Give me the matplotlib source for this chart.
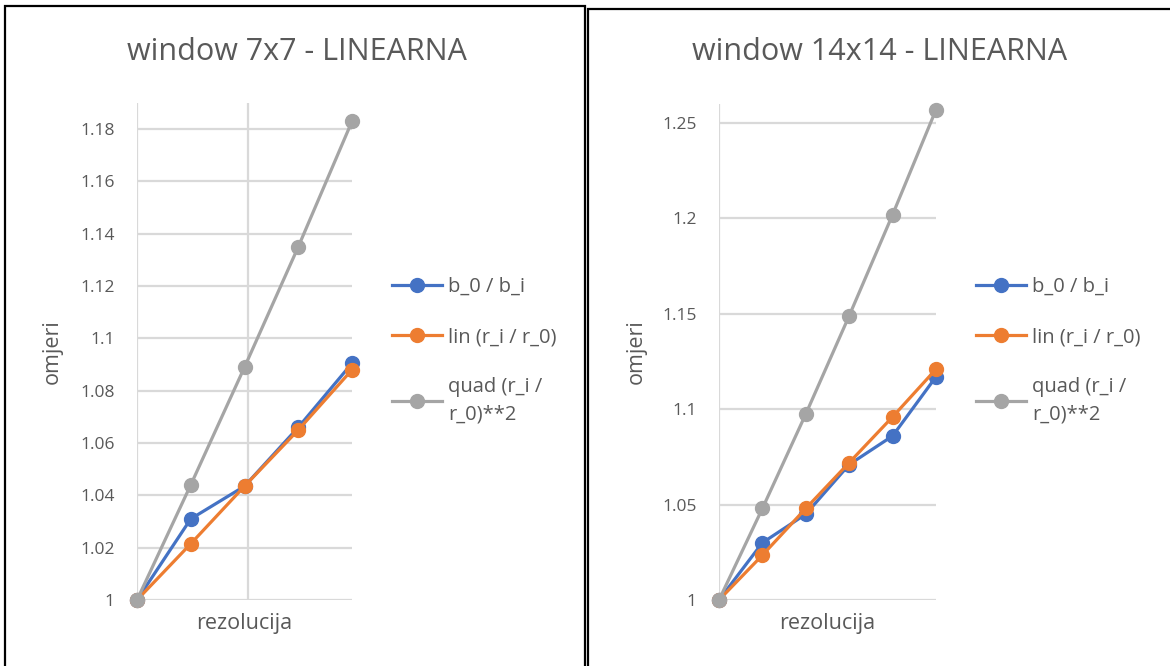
import matplotlib
matplotlib.use("Agg")
import matplotlib.pyplot as plt
from matplotlib.patches import Rectangle
import numpy as np

plt.rcParams.update(
    {
        "font.family": ["Open Sans", "DejaVu Sans"],
        "font.size": 12,
        "text.color": "#595959",
        "axes.labelcolor": "#595959",
        "xtick.color": "#595959",
        "ytick.color": "#595959",
    }
)

# Ratios per resolution step, window 7x7
w7_b = [1.0, 1.031, 1.0435, 1.066, 1.0905]
w7_lin = [1.0, 1.0215, 1.0435, 1.065, 1.088]
w7_quad = [1.0, 1.044, 1.089, 1.135, 1.183]

# Ratios per resolution step, window 14x14
w14_b = [1.0, 1.030, 1.045, 1.071, 1.086, 1.117]
w14_lin = [1.0, 1.0235, 1.048, 1.072, 1.096, 1.121]
w14_quad = [1.0, 1.048, 1.0975, 1.149, 1.202, 1.257]

labels = ["b_0 / b_i", "lin (r_i / r_0)", "quad (r_i /\nr_0)**2"]
colors = ["#4472C4", "#ED7D31", "#A5A5A5"]
GRID = "#D9D9D9"

fig = plt.figure(figsize=(11.7, 6.66), dpi=100)

# panel frames
fig.patches.append(Rectangle((5 / 1170, -0.05), 580 / 1170, 1 - 6 / 666 + 0.05,
                             transform=fig.transFigure, fill=False, ec="black", lw=1.6))
fig.patches.append(Rectangle((588 / 1170, -0.05), 600 / 1170, 1 - 9 / 666 + 0.05,
                             transform=fig.transFigure, fill=False, ec="black", lw=1.6))


def panel(rect, series, ylim, yticks, ytick_labels, title, title_x, vgrid, legend_x, ylab_x):
    ax = fig.add_axes(rect)
    n = len(series[0])
    x = np.arange(n)
    for vals, c, lab in zip(series, colors, labels):
        ax.plot(x, vals, "-o", color=c, lw=2.3, ms=10, label=lab, clip_on=False, zorder=3)
    ax.set_xlim(0, n - 1)
    ax.set_ylim(*ylim)
    ax.set_yticks(yticks)
    ax.set_yticklabels(ytick_labels)
    ax.set_xticks([])
    for s in ax.spines.values():
        s.set_visible(False)
    for t in yticks:
        ax.axhline(t, color=GRID, lw=1.6, zorder=1)
    for v in vgrid:
        ax.axvline(v, color=GRID, lw=1.6, zorder=1)
    ax.tick_params(axis="y", length=0, pad=16, labelsize=12.5)
    ax.set_xlabel("rezolucija", fontsize=15.5, labelpad=9)
    ax.set_ylabel("omjeri", fontsize=15.5)
    ax.yaxis.set_label_coords(ylab_x, 0.5)
    fig.text(title_x, 1 - 52 / 666, title, ha="center", va="center", fontsize=22, color="#595959")
    leg = ax.legend(loc="upper left", bbox_to_anchor=(legend_x, 1 - 267 / 666),
                    bbox_transform=fig.transFigure, frameon=False, fontsize=14.5,
                    handlelength=2.5, handletextpad=0.3, labelspacing=1.5, borderpad=0)
    for t in leg.get_texts():
        t.set_linespacing(1.45)
    return ax


panel([137 / 1170, 1 - 600 / 666, 215 / 1170, 497 / 666],
      [w7_b, w7_lin, w7_quad], (1.0, 1.19),
      np.arange(1.0, 1.181, 0.02),
      ["1", "1.02", "1.04", "1.06", "1.08", "1.1", "1.12", "1.14", "1.16", "1.18"],
      "window 7x7 - LINEARNA", 297 / 1170, [0, 2.07], 382 / 1170, -0.344)

panel([719 / 1170, 1 - 600 / 666, 217 / 1170, 496 / 666],
      [w14_b, w14_lin, w14_quad], (1.0, 1.26),
      np.arange(1.0, 1.251, 0.05),
      ["1", "1.05", "1.1", "1.15", "1.2", "1.25"],
      "window 14x14 - LINEARNA", 880 / 1170, [0], 966 / 1170, -0.332)

fig.savefig("out.png", dpi=100)
